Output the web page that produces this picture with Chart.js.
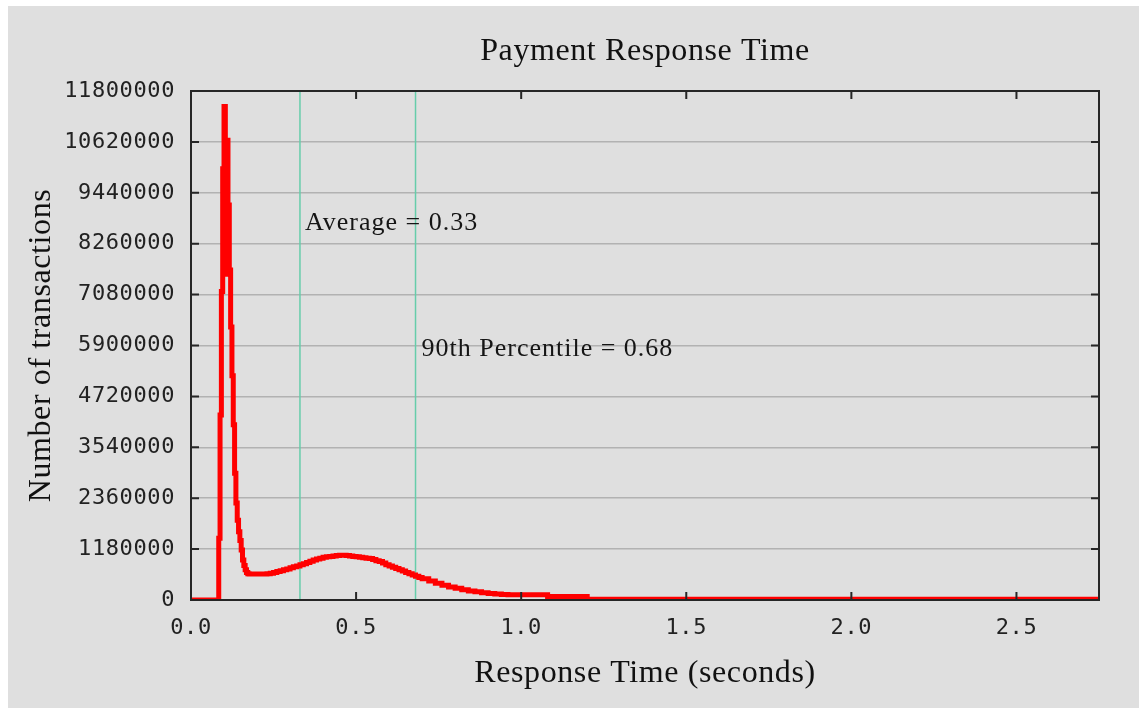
<!DOCTYPE html>
<html>
<head>
<meta charset="utf-8">
<title>Payment Response Time</title>
<script src="https://cdn.jsdelivr.net/npm/chart.js@4.4.1/dist/chart.umd.min.js"></script>
<style>
  html, body { margin: 0; padding: 0; background: #ffffff; }
  canvas { display: block; }
</style>
</head>
<body>
<canvas id="responseChart" width="1139" height="708"></canvas>
<script>
// response time histogram (step line)
var responseTimes = [
    0, 0.084, 0.088, 0.092, 0.096, 0.100, 0.104, 0.108, 0.112, 0.116,
    0.120, 0.124, 0.128, 0.132, 0.136, 0.140, 0.144, 0.148, 0.152, 0.156,
    0.160, 0.164, 0.168, 0.172, 0.176, 0.184, 0.19, 0.20, 0.21, 0.22,
    0.23, 0.24, 0.25, 0.26, 0.27, 0.28, 0.29, 0.30, 0.31, 0.32,
    0.33, 0.34, 0.35, 0.36, 0.37, 0.38, 0.39, 0.40, 0.41, 0.42,
    0.43, 0.44, 0.45, 0.46, 0.47, 0.48, 0.49, 0.50, 0.51, 0.52,
    0.53, 0.54, 0.55, 0.56, 0.57, 0.58, 0.59, 0.60, 0.61, 0.62,
    0.63, 0.64, 0.65, 0.66, 0.67, 0.68, 0.69, 0.70, 0.72, 0.74,
    0.76, 0.78, 0.80, 0.82, 0.84, 0.86, 0.88, 0.90, 0.92, 0.94,
    0.96, 1.08, 1.20, 2.75
];
var transactionCounts = [
    0, 1430000, 4290000, 7150000, 10000000, 11440000, 7550000, 10660000, 9160000, 7650000,
    6330000, 5200000, 4060000, 2940000, 2250000, 1850000, 1580000, 1380000, 1160000, 930000,
    800000, 700000, 640000, 610000, 600000, 600000, 600000, 600000, 600000, 600000,
    610000, 620000, 640000, 660000, 680000, 700000, 720000, 750000, 770000, 790000,
    820000, 840000, 870000, 900000, 930000, 950000, 970000, 990000, 1000000, 1010000,
    1020000, 1030000, 1040000, 1040000, 1030000, 1020000, 1010000, 1000000, 990000, 980000,
    970000, 960000, 940000, 910000, 890000, 860000, 820000, 790000, 760000, 730000,
    700000, 670000, 640000, 610000, 580000, 550000, 520000, 490000, 440000, 390000,
    340000, 300000, 270000, 240000, 210000, 190000, 170000, 150000, 140000, 130000,
    120000, 80000, 20000, 20000
];

var yTicks = [0, 1180000, 2360000, 3540000, 4720000, 5900000, 7080000, 8260000, 9440000, 10620000, 11800000];
var xTicks = [0, 0.5, 1.0, 1.5, 2.0, 2.5];

var averageTime = 0.33;
var percentile90 = 0.68;

var serif = '"Liberation Serif", "Times New Roman", serif';
var mono = '"DejaVu Sans Mono", monospace';

var points = responseTimes.map(function (t, i) {
    return { x: t, y: transactionCounts[i] };
});

function markerLine(t) {
    return [{ x: t, y: 0 }, { x: t, y: yTicks[yTicks.length - 1] }];
}

// grey panel behind the whole figure
var backdrop = {
    id: 'backdrop',
    beforeDraw: function (chart) {
        var ctx = chart.ctx;
        ctx.fillStyle = '#ffffff';
        ctx.fillRect(0, 0, chart.width, chart.height);
        ctx.fillStyle = '#dfdfdf';
        ctx.fillRect(8, 6, chart.width - 8, chart.height - 6);
        // the original text is set a little looser than the canvas default
        ctx.letterSpacing = '0.6px';
    }
};

// box round the plot, with ticks pointing inwards
var frame = {
    id: 'frame',
    afterDatasetsDraw: function (chart) {
        var ctx = chart.ctx;
        var a = chart.chartArea;
        var xs = chart.scales.x;
        var ys = chart.scales.y;
        ctx.save();
        ctx.strokeStyle = '#262626';
        ctx.lineWidth = 2;
        ctx.strokeRect(a.left, a.top, a.right - a.left, a.bottom - a.top);
        ctx.beginPath();
        ys.ticks.forEach(function (t) {
            var y = ys.getPixelForValue(t.value);
            ctx.moveTo(a.left, y);
            ctx.lineTo(a.left + 8, y);
            ctx.moveTo(a.right, y);
            ctx.lineTo(a.right - 8, y);
        });
        xs.ticks.forEach(function (t) {
            var x = xs.getPixelForValue(t.value);
            ctx.moveTo(x, a.bottom);
            ctx.lineTo(x, a.bottom - 8);
            ctx.moveTo(x, a.top);
            ctx.lineTo(x, a.top + 8);
        });
        ctx.stroke();

        ctx.fillStyle = '#151515';
        ctx.font = '26px ' + serif;
        ctx.letterSpacing = '1px';
        ctx.textAlign = 'left';
        ctx.textBaseline = 'middle';
        ctx.fillText('Average = ' + averageTime.toFixed(2), xs.getPixelForValue(averageTime) + 5, ys.getPixelForValue(8740000));
        ctx.fillText('90th Percentile = ' + percentile90.toFixed(2), xs.getPixelForValue(percentile90) + 6, ys.getPixelForValue(5820000));
        ctx.restore();
    }
};

var ctx = document.getElementById('responseChart').getContext('2d');
var chart = new Chart(ctx, {
    type: 'line',
    data: {
        datasets: [
            {
                label: 'Transactions',
                data: points,
                borderColor: '#ff0000',
                borderWidth: 5,
                stepped: true,
                pointRadius: 0,
                fill: false
            },
            {
                label: 'Average',
                data: markerLine(averageTime),
                borderColor: '#66cdaa',
                borderWidth: 1.5,
                pointRadius: 0
            },
            {
                label: '90th Percentile',
                data: markerLine(percentile90),
                borderColor: '#66cdaa',
                borderWidth: 1.5,
                pointRadius: 0
            }
        ]
    },
    options: {
        responsive: false,
        animation: false,
        devicePixelRatio: 1,
        layout: { padding: { top: 0, right: 40, bottom: 0, left: 0 } },
        plugins: {
            legend: { display: false },
            tooltip: { enabled: false },
            title: {
                display: true,
                text: 'Payment Response Time',
                fullSize: false,
                color: '#111111',
                font: { family: serif, size: 32, weight: 'normal' },
                padding: { top: 32, bottom: 20.6 }
            }
        },
        scales: {
            x: {
                type: 'linear',
                min: 0,
                max: 2.75,
                afterBuildTicks: function (scale) {
                    scale.ticks = xTicks.map(function (v) { return { value: v }; });
                },
                afterFit: function (scale) { scale.height = 108; },
                grid: { display: false, drawTicks: false },
                border: { display: false },
                ticks: {
                    color: '#222222',
                    font: { family: mono, size: 22 },
                    padding: 15,
                    maxRotation: 0,
                    callback: function (v) { return Number(v).toFixed(1); }
                },
                title: {
                    display: true,
                    text: 'Response Time (seconds)',
                    color: '#111111',
                    font: { family: serif, size: 32 },
                    padding: { top: 0, bottom: 15 }
                }
            },
            y: {
                min: 0,
                max: 11800000,
                afterBuildTicks: function (scale) {
                    scale.ticks = yTicks.map(function (v) { return { value: v }; });
                },
                afterFit: function (scale) { scale.width = 191; },
                grid: { color: '#b2b2b2', lineWidth: 1.5, drawTicks: false },
                border: { display: false },
                ticks: {
                    color: '#222222',
                    font: { family: mono, size: 22 },
                    padding: 16,
                    callback: function (v) { return String(v); }
                },
                title: {
                    display: true,
                    text: 'Number of transactions',
                    color: '#111111',
                    font: { family: serif, size: 32 },
                    padding: { top: 22, bottom: 0 }
                }
            }
        }
    },
    plugins: [backdrop, frame]
});
</script>
</body>
</html>
